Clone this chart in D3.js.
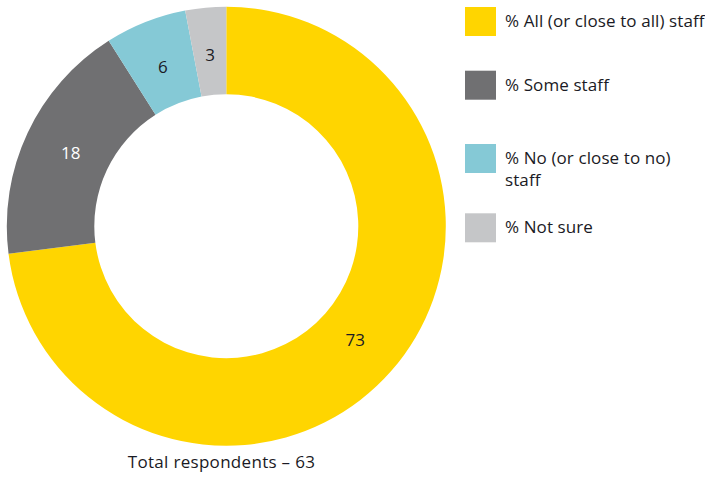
<!DOCTYPE html>
<html>
<head>
<meta charset="utf-8">
<script src="https://cdn.jsdelivr.net/npm/d3@7"></script>
<style>
  html, body { margin: 0; padding: 0; background: #fff; }
  svg { display: block; font-family: "Open Sans", "DejaVu Sans", sans-serif; }
</style>
</head>
<body>
<svg id="chart" width="705" height="477"></svg>
<script>
// Share of staff, in percent
const categories = ["% All (or close to all) staff", "% Some staff", "% No (or close to no) staff", "% Not sure"];
const legendLines = [["% All (or close to all) staff"], ["% Some staff"], ["% No (or close to no)", "staff"], ["% Not sure"]];
const values = [73, 18, 6, 3];
const colors = ["#FFD500", "#707072", "#85C9D6", "#C5C6C8"];
const labelColors = ["#1a1a24", "#ffffff", "#1a1a24", "#1a1a24"];
const totalLabel = "Total respondents \u2013 63";

const svg = d3.select("#chart");
const cx = 226.3, cy = 226.2;
const outerR = 219.5, innerR = 132;

const pie = d3.pie().sort(null).value(d => d);
const arcs = pie(values);
const arc = d3.arc().innerRadius(innerR).outerRadius(outerR);
const labelArc = d3.arc().innerRadius(172).outerRadius(172);

const g = svg.append("g").attr("transform", `translate(${cx},${cy})`);

g.selectAll("path.slice")
  .data(arcs)
  .join("path")
  .attr("class", "slice")
  .attr("d", arc)
  .attr("fill", (d, i) => colors[i]);

g.selectAll("text.value")
  .data(arcs)
  .join("text")
  .attr("class", "value")
  .attr("transform", d => `translate(${labelArc.centroid(d)})`)
  .attr("text-anchor", "middle")
  .attr("dominant-baseline", "central")
  .attr("font-size", 17)
  .attr("fill", (d, i) => labelColors[i])
  .text(d => d.data);

svg.append("text")
  .attr("x", 221.5)
  .attr("y", 468)
  .attr("text-anchor", "middle")
  .attr("font-size", 17)
  .attr("letter-spacing", 0.3)
  .attr("fill", "#1a1a24")
  .text(totalLabel);

// Legend
const legendTops = [7, 70.7, 144, 213.3];
const legend = svg.append("g");
categories.forEach((c, i) => {
  const y0 = legendTops[i];
  legend.append("rect")
    .attr("x", 465).attr("y", y0)
    .attr("width", 31).attr("height", 29)
    .attr("fill", colors[i]);
  const t = legend.append("text")
    .attr("x", 505)
    .attr("y", y0 + 20)
    .attr("font-size", 17)
    .attr("letter-spacing", 0.1)
    .attr("fill", "#1a1a24");
  legendLines[i].forEach((line, j) => {
    t.append("tspan").attr("x", 505).attr("dy", j === 0 ? 0 : 22).text(line);
  });
});
</script>
</body>
</html>
